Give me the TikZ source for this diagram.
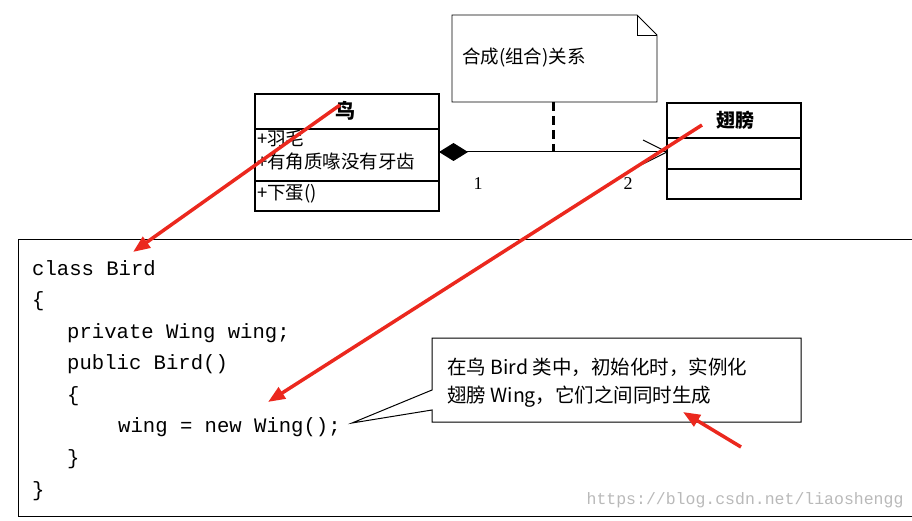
\documentclass[tikz,border=0pt]{standalone}
\usepackage{fontspec}
\setmainfont{Liberation Serif}
\setmonofont{Liberation Mono}
\newfontfamily\cjk{Noto Sans CJK SC}
\usetikzlibrary{arrows.meta}
\begin{document}
\begin{tikzpicture}[x=1pt,y=-1pt,
  box/.style={draw,line width=1.2pt},
  txt/.style={inner sep=0pt,font=\cjk\fontsize{18.5}{20}\selectfont},
  code/.style={inner sep=0pt,anchor=base west,font=\ttfamily\fontsize{20.6}{22}\selectfont},
  redarrow/.style={draw={rgb,255:red,235;green,40;blue,30},line width=3.5pt,-{Triangle[length=17pt,width=13pt]}}]
\useasboundingbox (0,0) rectangle (912,521);
% Bird class
\draw[box] (255,94) rectangle (439,211);
\draw[box] (255,129) -- (439,129) (255,181) -- (439,181);
\node[txt,font=\cjk\bfseries\fontsize{20}{22}\selectfont] (bt) at (345,111) {鸟};
\node[txt,anchor=north west] (ba) at (257,130) {+羽毛};
\node[txt,anchor=north west] (bb) at (257,153) {+有角质喙没有牙齿};
\node[txt,anchor=north west] (bm) at (257,184) {+下蛋()};
\coordinate (bR) at (439,152);
% Wing class
\draw[box] (667,103) rectangle (801,199);
\draw[box] (667,138) -- (801,138) (667,169) -- (801,169);
\node[txt,font=\cjk\bfseries\fontsize{19}{22}\selectfont] (wt) at (735,120) {翅膀};
\coordinate (wL) at (667,152);
% note
\draw[line width=0.8pt] (452,15) -- (637,15) -- (657,35) -- (657,102) -- (452,102) -- cycle;
\draw[line width=0.8pt] (637,15) -- (637,35) -- (657,35);
\node[txt,anchor=west] (nt) at (462,58) {合成(组合)关系};
\coordinate (nb) at (553,102);
\coordinate (nl) at (553,152);
\draw[line width=3pt,dash pattern=on 9pt off 5pt] (nb) -- (nl);
% composition
\draw[line width=1pt] (bR) -- (wL);
\fill (439,152) -- (453.5,143) -- (468,152) -- (453.5,161) -- cycle;
\draw[line width=1pt] (643,140) -- (wL) -- (643,164);
\node[font=\fontsize{18}{20}\selectfont] (m1) at (478,184) {1};
\node[font=\fontsize{18}{20}\selectfont] (m2) at (628,184) {2};
% code box
\draw[line width=1pt] (18,240) -- (912,240) (18,240) -- (18,516) -- (912,516);
\node[code] (c1) at (32,275) {class Bird};
\node[code] (c2) at (32,306) {\{};
\node[code] (c3) at (67,338) {private Wing wing;};
\node[code] (c4) at (67,369) {public Bird()};
\node[code] (c5) at (67,401) {\{};
\node[code] (c6) at (118,432) {wing = new Wing();};
\node[code] (c7) at (67,464) {\}};
\node[code] (c8) at (32,496) {\}};
% callout
\coordinate (tip) at (352,423);
\draw[line width=1pt,fill=white] (432,338) -- (801,338) -- (801,422) -- (432,422) -- (432,410) -- (tip) -- (432,390) -- cycle;
\node[txt,anchor=west,font=\cjk\fontsize{19.5}{22}\selectfont] (k1) at (447,367) {在鸟 Bird 类中，初始化时，实例化};
\node[txt,anchor=west,font=\cjk\fontsize{19.5}{22}\selectfont] (k2) at (447,397) {翅膀 Wing，它们之间同时生成};
% watermark
\node[font=\ttfamily\fontsize{16.5}{18}\selectfont,text=gray!55,anchor=east] (wm) at (907,500) {https://blog.csdn.net/liaoshengg};
% red arrows
\coordinate (r1s) at (340,105);
\coordinate (r1e) at (133,252);
\coordinate (r2s) at (702,125);
\coordinate (r2e) at (268,402);
\coordinate (r3s) at (741,447);
\coordinate (r3e) at (683,412);
\draw[redarrow] (r1s) -- (r1e);
\draw[redarrow] (r2s) -- (r2e);
\draw[redarrow] (r3s) -- (r3e);
\end{tikzpicture}
\end{document}
